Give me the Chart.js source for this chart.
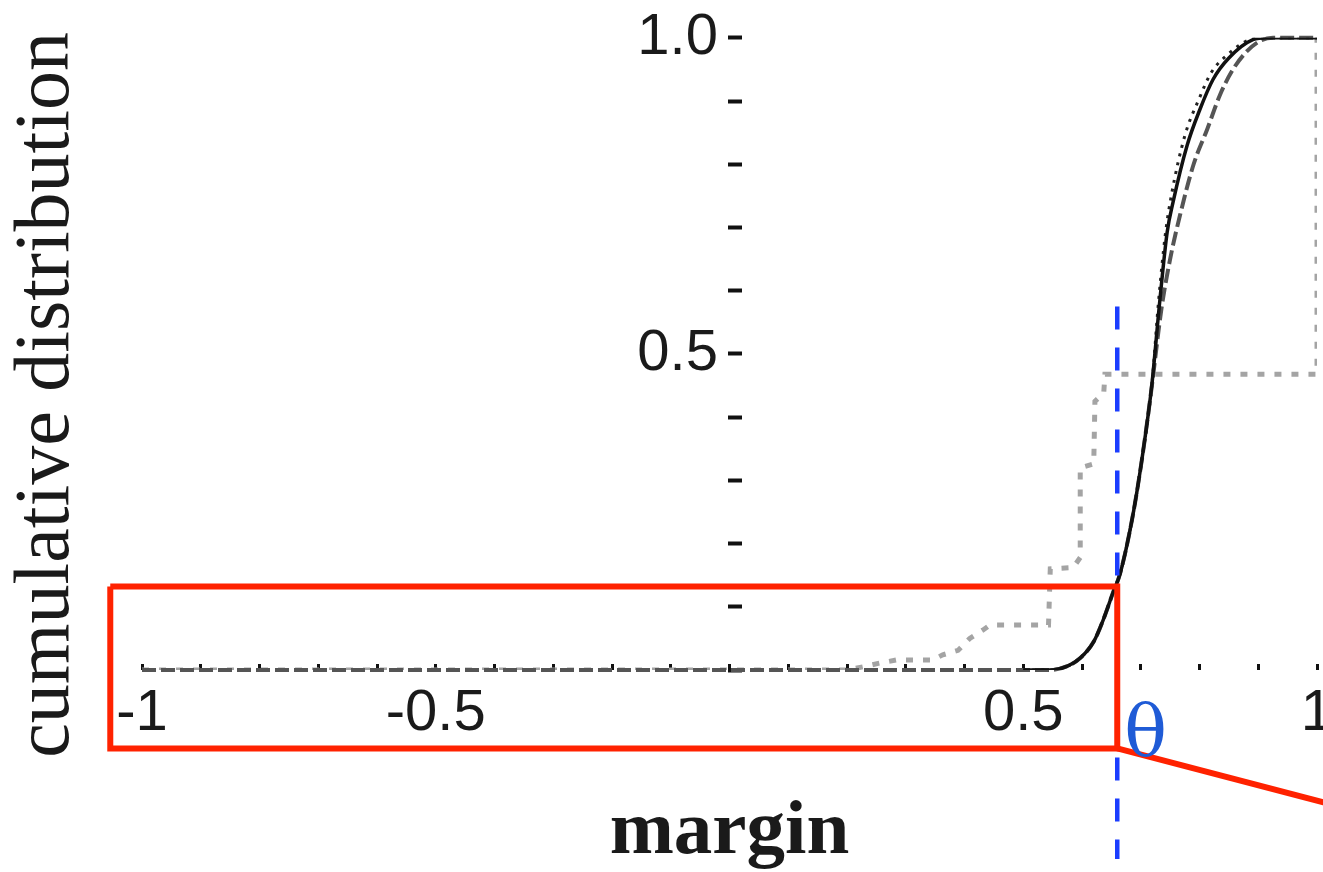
<!DOCTYPE html>
<html><head><meta charset="utf-8">
<script src="https://cdn.jsdelivr.net/npm/chart.js@4.4.1/dist/chart.umd.min.js"></script>
<style>html,body{margin:0;padding:0;background:#fff;overflow:hidden;width:1323px;height:872px}canvas{display:block}</style>
</head><body>
<canvas id="c" width="1400" height="872" style="width:1400px;height:872px"></canvas>
<script>
// ---- data ----
const xLabelValues = [-1, -0.5, 0.5, 1];
const xLabelTexts = ['-1', '-0.5', '0.5', '1'];
const yLabelValues = [0.5, 1.0];
const yLabelTexts = ['0.5', '1.0'];

const solidX = [0.50, 0.546, 0.575, 0.597, 0.62, 0.636, 0.653, 0.665, 0.687, 0.704, 0.719, 0.732, 0.745, 0.755, 0.779, 0.80, 0.823, 0.85, 0.891, 0.915, 1.0];
const solidY = [0, 0, 0.006, 0.019, 0.045, 0.079, 0.123, 0.153, 0.247, 0.346, 0.452, 0.58, 0.693, 0.74, 0.83, 0.885, 0.934, 0.968, 0.997, 1.0, 1.0];

const dashX = [-1, 0.546, 0.575, 0.597, 0.62, 0.636, 0.653, 0.665, 0.687, 0.704, 0.719, 0.735, 0.75, 0.767, 0.79, 0.813, 0.835, 0.857, 0.88, 0.903, 0.925, 1.0];
const dashY = [0, 0, 0.006, 0.019, 0.045, 0.079, 0.123, 0.153, 0.247, 0.346, 0.45, 0.57, 0.65, 0.72, 0.80, 0.855, 0.91, 0.95, 0.978, 0.995, 1.0, 1.0];

const dotX = [0.50, 0.546, 0.575, 0.597, 0.62, 0.636, 0.653, 0.665, 0.687, 0.704, 0.719, 0.73, 0.742, 0.752, 0.775, 0.80, 0.82, 0.85, 0.885, 0.91, 1.0];
const dotY = [0, 0, 0.006, 0.019, 0.045, 0.079, 0.123, 0.153, 0.247, 0.346, 0.452, 0.58, 0.69, 0.75, 0.845, 0.905, 0.945, 0.975, 0.997, 1.0, 1.0];

const stepX = [-1, 0.2, 0.227, 0.256, 0.285, 0.346, 0.363, 0.389, 0.409, 0.431, 0.443, 0.543, 0.546, 0.585, 0.597, 0.597, 0.62, 0.622, 0.637, 0.639, 1.0, 1.0];
const stepY = [0, 0, 0.005, 0.011, 0.016, 0.016, 0.024, 0.031, 0.05, 0.063, 0.071, 0.071, 0.16, 0.162, 0.178, 0.32, 0.326, 0.425, 0.438, 0.468, 0.468, 1.0];

const THETA = 0.66;
const thetaLine = [0.575, -0.299];          // y extent of the dashed θ marker
const boxX = [-1.054, 0.66];                // highlighted region
const boxY = [-0.124, 0.132];
const zoomLineEnd = [1.141, -0.241];

const pts = (xs, ys) => xs.map((v, i) => ({x: v, y: ys[i]}));

const ink = '#1a1a1a';
const tickFont = {family: '"Liberation Sans", Arial, sans-serif', size: 58};

const thetaText = {
  id: 'thetaText',
  afterLayout(chart) {
    const s = chart.scales.yt;
    s.top += 41; s.bottom += 41;
  },
  afterDatasetsDraw(chart) {
    const {ctx, scales: {x, y}} = chart;
    ctx.save();
    ctx.fillStyle = '#1f5bd6';
    ctx.font = '71px "DejaVu Serif", serif';
    ctx.textAlign = 'left';
    ctx.textBaseline = 'alphabetic';
    ctx.fillText('θ', x.getPixelForValue(THETA) + 7, y.getPixelForValue(0) + 85);
    ctx.restore();
  }
};

new Chart(document.getElementById('c'), {
  type: 'line',
  data: {
    datasets: [
      {data: pts([boxX[0], boxX[1], boxX[1], boxX[0], boxX[0]], [boxY[1], boxY[1], boxY[0], boxY[0], boxY[1]]),
       borderColor: '#ff2200', borderWidth: 6, clip: false, order: 0, pointRadius: 0, borderJoinStyle: 'miter'},
      {data: pts([boxX[1], zoomLineEnd[0]], [boxY[0], zoomLineEnd[1]]),
       borderColor: '#ff2200', borderWidth: 6, clip: false, order: 0, pointRadius: 0},
      {data: pts([THETA, THETA], thetaLine),
       borderColor: '#1b3dff', borderWidth: 4.5, borderDash: [23, 18], clip: false, order: 1, pointRadius: 0},
      {data: pts(solidX, solidY), borderColor: '#111', borderWidth: 3.5, cubicInterpolationMode: 'monotone', order: 2, pointRadius: 0},
      {data: pts(dotX, dotY), borderColor: '#222', borderWidth: 3, borderDash: [3, 6], cubicInterpolationMode: 'monotone', order: 3, pointRadius: 0},
      {data: pts(dashX, dashY), borderColor: '#555', borderWidth: 4, borderDash: [14, 5], cubicInterpolationMode: 'monotone', order: 4, pointRadius: 0, clip: 4},
      {data: pts(stepX, stepY), borderColor: '#a4a4a4', borderWidth: 5, borderDash: [7, 10], order: 5, pointRadius: 0, tension: 0}
    ]
  },
  options: {
    responsive: false,
    animation: false,
    events: [],
    layout: {padding: {top: 35, right: 83, bottom: 0, left: 0}},
    plugins: {legend: {display: false}, tooltip: {enabled: false}},
    scales: {
      x: {
        type: 'linear', min: -1, max: 1, position: 'bottom',
        afterFit: s => { s.height = 202; },
        border: {display: false},
        grid: {drawOnChartArea: false, drawTicks: true, tickLength: -6, tickWidth: 3, color: '#111'},
        ticks: {stepSize: 0.1, autoSkip: false, maxRotation: 0, minRotation: 0, padding: 15, font: tickFont, color: ink,
          callback: v => { const i = xLabelValues.findIndex(t => Math.abs(t - v) < 1e-6); return i >= 0 ? xLabelTexts[i] : ''; }},
        title: {display: true, text: 'margin', color: ink,
          font: {family: '"Liberation Serif", serif', size: 77, weight: 'bold', lineHeight: 1}, padding: {top: 0, bottom: 0}}
      },
      y: {
        type: 'linear', min: 0, max: 1, position: {x: 0.0215},
        afterFit: s => { s.width = 0; },
        border: {display: false},
        grid: {drawOnChartArea: false, drawTicks: true, tickLength: 14, tickWidth: 4, color: '#111'},
        ticks: {stepSize: 0.1, autoSkip: false, display: false}
      },
      yl: {
        type: 'linear', min: 0, max: 1, position: {x: -0.0196},
        afterFit: s => { s.width = 0; },
        border: {display: false},
        grid: {display: false, drawTicks: false},
        ticks: {stepSize: 0.1, autoSkip: false, font: tickFont, color: ink,
          callback: v => { const i = yLabelValues.findIndex(t => Math.abs(t - v) < 1e-6); return i >= 0 ? yLabelTexts[i] : ''; }}
      },
      yt: {
        type: 'linear', min: 0, max: 1, position: 'left',
        afterFit: s => { s.width = 142; },
        border: {display: false},
        grid: {display: false},
        ticks: {display: false},
        title: {display: true, text: 'cumulative distribution', color: ink,
          font: {family: '"Liberation Serif", serif', size: 78, lineHeight: 1}, padding: {top: 9, bottom: 0}}
      }
    }
  },
  plugins: [thetaText]
});
</script>
</body></html>
